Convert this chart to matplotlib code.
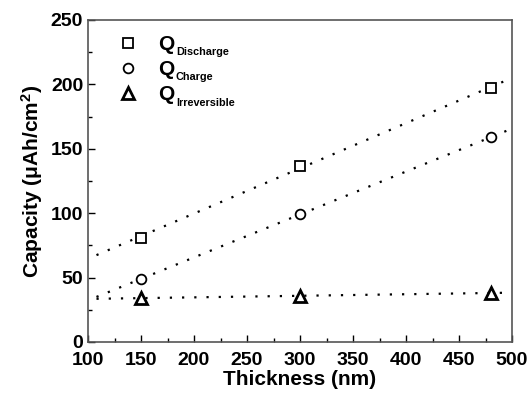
import numpy as np
import matplotlib.pyplot as plt
from matplotlib.ticker import MultipleLocator

plt.rcParams['font.family'] = ['Liberation Sans', 'DejaVu Sans']
plt.rcParams['font.weight'] = 'bold'
plt.rcParams['mathtext.fontset'] = 'custom'
plt.rcParams['mathtext.rm'] = 'Liberation Sans:bold'
plt.rcParams['mathtext.bf'] = 'Liberation Sans:bold'
plt.rcParams['mathtext.it'] = 'Liberation Sans:bold'

thickness = [150, 300, 480]
q_discharge = [81, 137, 197]
q_charge = [49, 99, 159]
q_irrev = [34, 36, 38]
subscripts = ['Discharge', 'Charge', 'Irreversible']

fig = plt.figure(figsize=(5.3, 3.97), dpi=100)
ax = fig.add_axes([88 / 530, 1 - 342 / 397, 424 / 530, 322 / 397])

xfit = np.array([108, 505])
styles = [('s', 6.5, 1.3), ('o', 7, 1.3), ('^', 8.5, 2.0)]
for y, (mk, ms, mew) in zip([q_discharge, q_charge, q_irrev], styles):
    # least-squares trend line through each series
    p = np.polyfit(thickness, y, 1)
    ax.plot(xfit, np.polyval(p, xfit), color='black', ls=(0, (1, 4.5)), lw=1.6)
    ax.plot(thickness, y, ls='none', marker=mk, ms=ms,
            mfc='white', mec='black', mew=mew, label='Q')

ax.set_xlim(100, 500)
ax.set_ylim(0, 250)
ax.xaxis.set_major_locator(MultipleLocator(50))
ax.xaxis.set_minor_locator(MultipleLocator(25))
ax.yaxis.set_major_locator(MultipleLocator(50))
ax.yaxis.set_minor_locator(MultipleLocator(25))
ax.tick_params(which='both', direction='in', top=False, right=False,
               labelsize=14)
ax.tick_params(axis='x', pad=7)
ax.tick_params(which='major', length=5, width=1)
ax.tick_params(which='minor', length=3, width=1)
for s in ax.spines.values():
    s.set_color('#555555')
    s.set_linewidth(1.2)

ax.set_xlabel('Thickness (nm)', fontsize=15, fontweight='bold', labelpad=1)
ax.set_ylabel(r'Capacity ($\mu$Ah/cm$^2$)', fontsize=15, fontweight='bold',
              labelpad=4)

leg = ax.legend(loc='upper left', bbox_to_anchor=(119 / 530, 1 - 35 / 397),
                bbox_transform=fig.transFigure, frameon=False,
                prop={'family': 'Liberation Sans', 'weight': 'bold', 'size': 15},
                handletextpad=1.0, labelspacing=0.3,
                handlelength=0.9, borderpad=0, borderaxespad=0)

# subscripts placed just after each legend "Q"
fig.canvas.draw()
inv = fig.transFigure.inverted()
for txt, sub in zip(leg.get_texts(), subscripts):
    bb = txt.get_window_extent()
    x, y = inv.transform((bb.x1 + 1, bb.y0 - 1))
    fig.text(x, y, sub, ha='left', va='baseline', fontsize=7.8, fontweight='bold')

fig.savefig('out.png', dpi=100)
